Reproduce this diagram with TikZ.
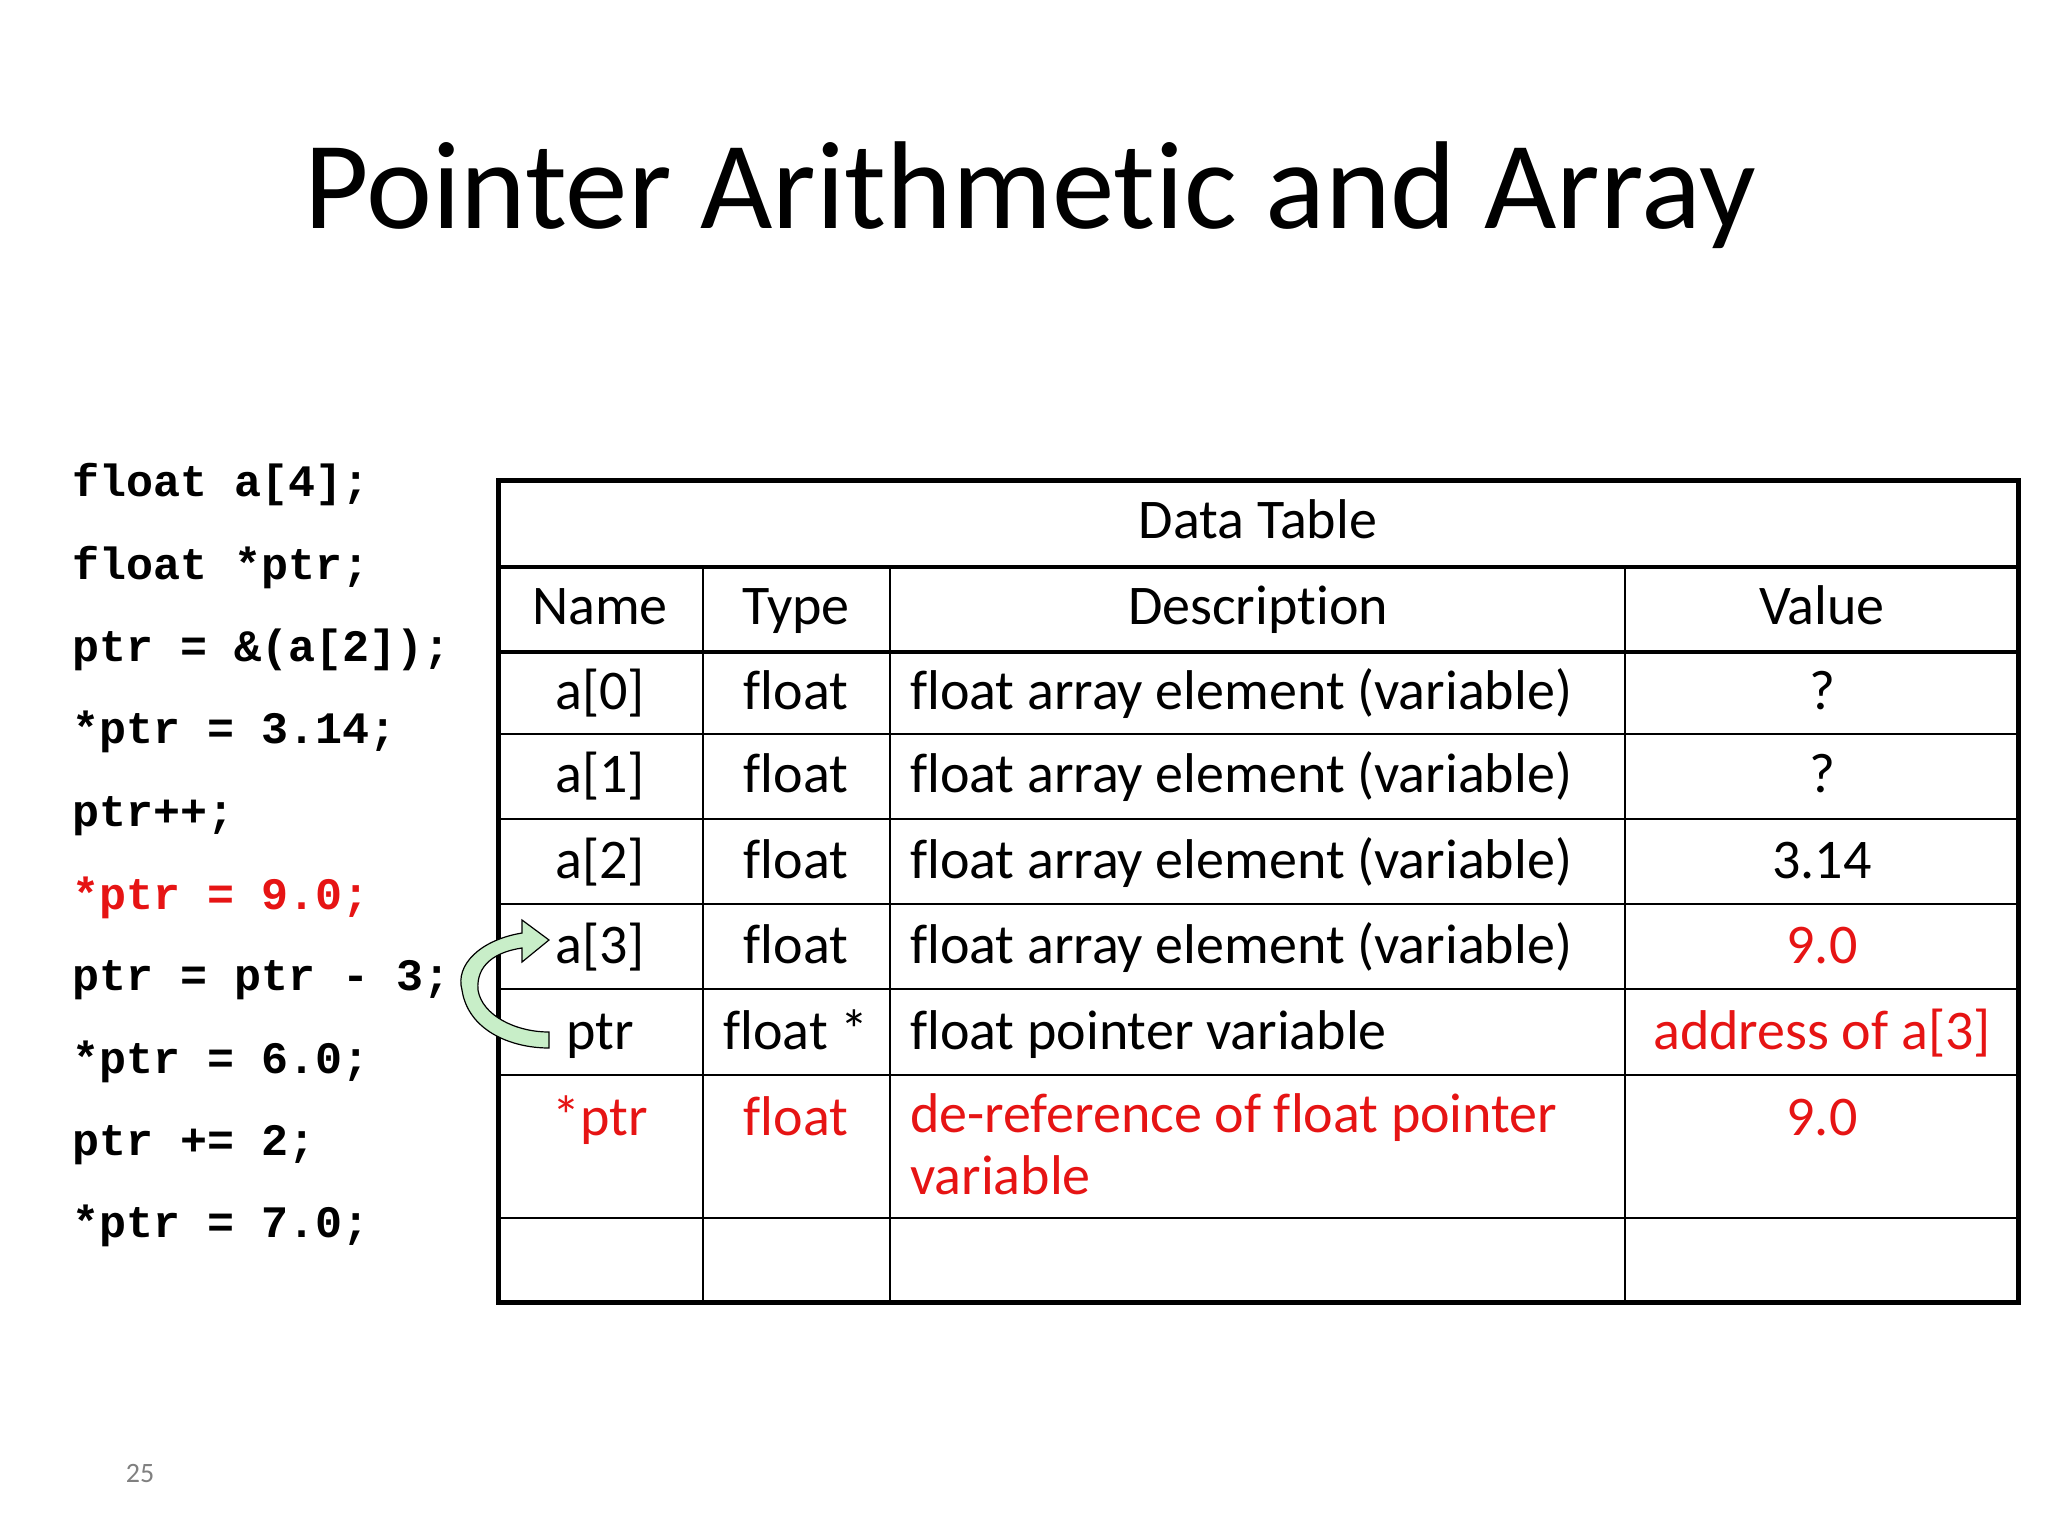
\documentclass[tikz,border=0pt]{standalone}
\usepackage{fontspec}
\setmainfont{Carlito}[Ligatures={NoCommon}]
\newfontfamily\codefont{Liberation Mono}
\definecolor{hl}{RGB}{230,20,20}
\begin{document}
\begin{tikzpicture}[x=1pt,y=-1pt,
  code/.style={anchor=west,font=\codefont\bfseries\fontsize{45}{45}\selectfont,inner sep=0,text height=32pt,text depth=8pt},
  cell/.style={font=\fontsize{56}{60}\selectfont,inner sep=0,text height=40pt,text depth=12pt},
  redtxt/.style={text=hl}]
\useasboundingbox (0,0) rectangle (2048,1536);
\fill[white] (0,0) rectangle (2048,1536);
\node[font=\fontsize{125}{130}\selectfont] (title) at (1030,195) {Pointer Arithmetic and Array};
% code
\foreach \t/\y/\n in {float a[4];/484/c1,float *ptr;/567/c2,ptr = \&(a[2]);/649/c3,*ptr = 3.14;/731/c4,ptr++;/814/c5,ptr = ptr - 3;/978/c7,*ptr = 6.0;/1061/c8,ptr += 2;/1143/c9,*ptr = 7.0;/1225/c10}
  \node[code] (\n) at (72,\y) {\t};
\node[code,redtxt] (c6) at (72,897) {*ptr = 9.0;};
\node[text=gray,font=\fontsize{28}{28}\selectfont] (pg) at (140,1473) {25};
% table lines
\draw[line width=5] (498,480) rectangle (2018,1302);
\draw[line width=4] (498,567) -- (2018,567) (498,652) -- (2018,652);
\foreach \y in {734,819,904,989,1075,1218} \draw[line width=2] (498,\y) -- (2018,\y);
\foreach \x in {703,890,1625} \draw[line width=2] (\x,567) -- (\x,1302);
\node[cell] (dt) at (1258,524) {Data Table};
\node[cell] (hn) at (600,610) {Name};
\node[cell] (ht) at (796,610) {Type};
\node[cell] (hd) at (1258,610) {Description};
\node[cell] (hv) at (1822,610) {Value};
\foreach \n/\y/\v in {0/695/?,1/778/?,2/864/3.14} {
  \node[cell] (n\n) at (600,\y) {a[\n]};
  \node[cell] (t\n) at (796,\y) {float};
  \node[cell,anchor=west] (d\n) at (910,\y) {float array element (variable)};
  \node[cell] (v\n) at (1822,\y) {\v};
}
\node[cell] (n3) at (600,949) {a[3]};
\node[cell] (t3) at (796,949) {float};
\node[cell,anchor=west] (d3) at (910,949) {float array element (variable)};
\node[cell,redtxt] (v3) at (1822,949) {9.0};
\node[cell] (n4) at (600,1035) {ptr};
\node[cell] (t4) at (796,1035) {float *};
\node[cell,anchor=west] (d4) at (910,1035) {float pointer variable};
\node[cell,redtxt] (v4) at (1822,1035) {address of a[3]};
\node[cell,redtxt] (n5) at (600,1121) {*ptr};
\node[cell,redtxt] (t5) at (796,1121) {float};
\node[cell,redtxt,anchor=north west,align=left,font=\fontsize{56}{62}\selectfont,text height=,text depth=] (d5) at (910,1093) {de-reference of float pointer\\variable};
\node[cell,redtxt] (v5) at (1822,1121) {9.0};
% arrow
\draw[line width=1.2,fill={rgb,255:red,200;green,238;blue,200}]
 (549,1032) .. controls (515,1032) and (482,1015) .. (478,990)
 .. controls (476,965) and (495,952) .. (522,948) -- (522,962) -- (549,940) -- (522,920) -- (522,933)
 .. controls (480,940) and (455,965) .. (462,990) .. controls (468,1030) and (510,1048) .. (549,1048) -- cycle;
\end{tikzpicture}
\end{document}
